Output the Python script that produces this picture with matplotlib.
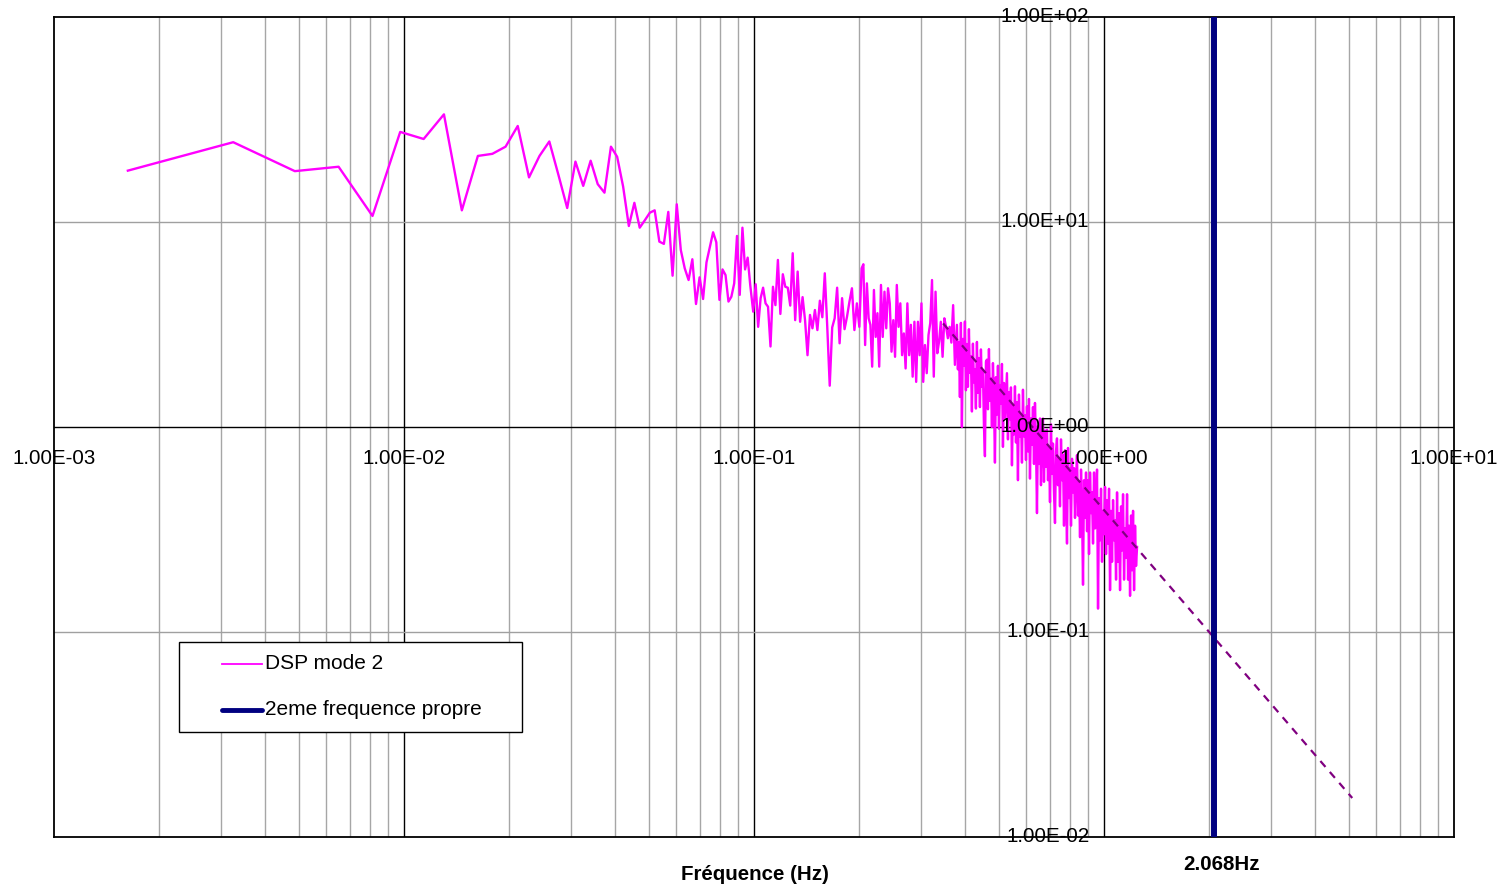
import numpy as np
import matplotlib
matplotlib.use("Agg")
import matplotlib.pyplot as plt
from matplotlib.lines import Line2D
from matplotlib.patches import Rectangle

plt.rcParams['font.family'] = ['Liberation Sans', 'DejaVu Sans']

# --- data -----------------------------------------------------------------
# resolution en frequence de la DSP (Hz)
df = 0.001626

# DSP mode 2, premiers points (un par raie, k = 1..60)
dsp_low = [17.8, 24.5, 17.7, 18.6, 10.7, 27.5, 25.4, 33.5, 11.4, 21.0,
           21.5, 23.3, 29.4, 16.5, 21.0, 24.7, 16.9, 11.7, 19.7, 15.0,
           19.9, 15.3, 13.9, 23.3, 20.8, 14.9, 9.56, 12.4, 9.38, 10.2,
           11.1, 11.4, 8.02, 7.82, 11.2, 5.47, 12.2, 7.30, 5.94, 5.21,
           6.58, 3.98, 5.37, 4.21, 6.36, 7.55, 8.91, 7.96, 4.17, 5.87,
           5.51, 4.09, 4.32, 5.02, 8.55, 4.41, 9.38, 5.87, 6.70, 4.93]

# 0.0995 - 0.200 Hz
f_mid1 = (0.0995, 0.200)
dsp_mid1 = [3.65, 4.97, 3.08, 4.25, 4.78, 4.01, 3.86, 2.47, 4.83, 3.93,
            6.53, 3.56, 5.56, 4.83, 4.78, 3.91, 7.04, 3.32, 5.73, 3.26,
            4.30, 3.32, 2.24, 3.52, 3.03, 3.72, 2.97, 4.13, 3.43, 5.62,
            3.08, 1.59, 3.06, 3.39, 4.78, 2.56, 4.25, 3.00, 3.45, 4.09,
            4.75, 2.97, 4.01, 3.08]

# 0.203 - 0.375 Hz
f_mid2 = (0.203, 0.375)
dsp_mid2 = [5.94, 6.22, 2.51, 5.02, 3.39, 3.15, 1.97, 4.66, 2.75, 3.59,
            1.97, 4.93, 2.75, 4.57, 3.03, 4.75, 4.01, 2.33, 3.32, 2.20,
            4.93, 3.08, 4.01, 2.24, 2.86, 1.93, 4.01, 2.24, 3.15, 1.76,
            3.26, 1.66, 3.26, 2.24, 4.01, 1.66, 2.51, 1.83, 2.81, 3.21,
            5.21, 1.76, 4.57, 2.29, 2.61, 3.26, 2.20, 3.39, 3.08, 2.71,
            3.08, 2.58, 3.93, 2.01]

# 0.380 - 1.243 Hz (zone dense)
f_high = (0.380, 1.243)
dsp_high = [3.15, 1.91, 2.60, 1.40, 3.22, 1.00, 2.69, 1.99, 3.27, 1.51,
            2.54, 1.57, 3.00, 1.84, 2.21, 1.19, 2.55, 1.65, 1.91, 1.23,
            2.60, 1.47, 2.17, 1.25, 2.39, 1.57, 1.89, 1.02, 0.72, 2.08,
            2.13, 1.22, 2.40, 1.34, 1.72, 1.00, 2.05, 1.35, 0.67, 1.75,
            1.15, 1.99, 0.98, 1.60, 1.30, 2.03, 0.80, 1.64, 1.11, 1.41,
            1.83, 0.87, 1.48, 1.09, 1.56, 0.65, 1.28, 0.92, 1.58, 0.84,
            1.32, 0.55, 1.44, 0.90, 1.14, 0.67, 1.52, 0.90, 1.14, 0.69,
            1.26, 0.76, 1.37, 0.56, 1.10, 0.82, 1.25, 0.66, 1.31, 0.86,
            0.38, 1.01, 0.66, 1.10, 0.52, 0.88, 1.10, 0.54, 0.96, 0.64,
            0.97, 0.55, 0.80, 0.43, 1.03, 0.59, 0.83, 0.48, 0.34, 0.76,
            0.88, 0.52, 0.70, 0.41, 0.87, 0.55, 0.73, 0.33, 0.77, 0.49,
            0.27, 0.79, 0.45, 0.63, 0.33, 0.70, 0.48, 0.63, 0.36, 0.56,
            0.73, 0.37, 0.54, 0.29, 0.62, 0.40, 0.17, 0.55, 0.36, 0.60,
            0.31, 0.55, 0.24, 0.60, 0.38, 0.48, 0.27, 0.60, 0.32, 0.43,
            0.62, 0.13, 0.45, 0.28, 0.50, 0.22, 0.39, 0.30, 0.51, 0.24,
            0.44, 0.27, 0.50, 0.16, 0.39, 0.22, 0.44, 0.28, 0.35, 0.18,
            0.48, 0.22, 0.38, 0.16, 0.41, 0.25, 0.47, 0.18, 0.32, 0.23,
            0.47, 0.18, 0.33, 0.15, 0.37, 0.20, 0.39, 0.16, 0.33, 0.21,
            0.26]

# droite de tendance (pente -2)
fit_freq = [0.347, 5.12]
fit_psd = [3.2, 0.0155]

# 2eme frequence propre
f_propre = 2.068

x_ticks = [1e-3, 1e-2, 1e-1, 1e0, 1e1]
x_labels = ['1.00E-03', '1.00E-02', '1.00E-01', '1.00E+00', '1.00E+01']
y_ticks = [1e-2, 1e-1, 1e0, 1e1, 1e2]
y_labels = ['1.00E-02', '1.00E-01', '1.00E+00', '1.00E+01', '1.00E+02']

# --- assemblage ---------------------------------------------------------
freq = np.concatenate([
    df * np.arange(1, len(dsp_low) + 1),
    np.geomspace(f_mid1[0], f_mid1[1], len(dsp_mid1)),
    np.geomspace(f_mid2[0], f_mid2[1], len(dsp_mid2)),
    np.geomspace(f_high[0], f_high[1], len(dsp_high)),
])
dsp = np.concatenate([dsp_low, dsp_mid1, dsp_mid2, dsp_high])

# --- figure ---------------------------------------------------------------
fig = plt.figure(figsize=(15.03, 8.89), dpi=100)
ax = fig.add_axes([0.0359, 0.0585, 0.9315, 0.9224])
ax.set_xscale('log')
ax.set_yscale('log')
ax.set_xlim(1e-3, 1e1)
ax.set_ylim(1e-2, 1e2)

# grille
for d in [1e-3, 1e-2, 1e-1, 1e0]:
    for m in range(2, 10):
        ax.axvline(d * m, color='#a6a6a6', lw=1.0, zorder=1)
for xv in [1e-2, 1e-1]:
    ax.axvline(xv, color='black', lw=1.0, zorder=1)
for yv in [1e-1, 1e1]:
    ax.axhline(yv, color='#a0a0a0', lw=1.0, zorder=1)
# axes qui se croisent en (1, 1)
ax.axvline(1.0, color='black', lw=1.0, zorder=2)
ax.axhline(1.0, color='black', lw=1.0, zorder=2)

ax.plot(freq, dsp, color='#FF00FF', lw=1.7, zorder=3)
ax.plot(fit_freq, fit_psd, color='#800080', lw=1.6,
        linestyle=(0, (3.5, 3.0)), zorder=4)
ax.axvline(f_propre, color='#000080', lw=4.3, zorder=5)

ax.set_xticks([])
ax.set_yticks([])
ax.minorticks_off()
for s in ax.spines.values():
    s.set_linewidth(1.3)
    s.set_color('black')

# etiquettes des axes (croisement en 1)
for xv, lab in zip(x_ticks, x_labels):
    ax.annotate(lab, xy=(xv, 1.0), xytext=(0, -23), textcoords='offset points',
                ha='center', va='center', fontsize=14.8, zorder=6,
                annotation_clip=False)
for yv, lab in zip(y_ticks, y_labels):
    ax.annotate(lab, xy=(1.0, yv), xytext=(-10.5, 0), textcoords='offset points',
                ha='right', va='center', fontsize=14.8, zorder=6,
                annotation_clip=False)

ax.annotate('2.068Hz', xy=(f_propre, 1e-2), xytext=(5, -19.5),
            textcoords='offset points', ha='center', va='center',
            fontsize=14.8, fontweight='bold', annotation_clip=False)
fig.text(755 / 1503, 1 - 875 / 889, 'Fréquence (Hz)', ha='center', va='center',
         fontsize=14.8, fontweight='bold')

# legende
ax.add_patch(Rectangle((0.0893, 0.1280), 0.245, 0.1098, transform=ax.transAxes,
                       facecolor='white', edgecolor='black', lw=1.0, zorder=7))
ax.add_line(Line2D([0.12, 0.1486], [0.211, 0.211], transform=ax.transAxes,
                   color='#FF00FF', lw=1.3, zorder=8))
ax.add_line(Line2D([0.12, 0.1486], [0.1549, 0.1549], transform=ax.transAxes,
                   color='#000080', lw=3.5, solid_capstyle='round', zorder=8))
ax.text(0.1507, 0.211, 'DSP mode 2', transform=ax.transAxes, ha='left',
        va='center', fontsize=15, zorder=8)
ax.text(0.1507, 0.1549, '2eme frequence propre', transform=ax.transAxes,
        ha='left', va='center', fontsize=15, zorder=8)

fig.savefig('out.png', dpi=100)
